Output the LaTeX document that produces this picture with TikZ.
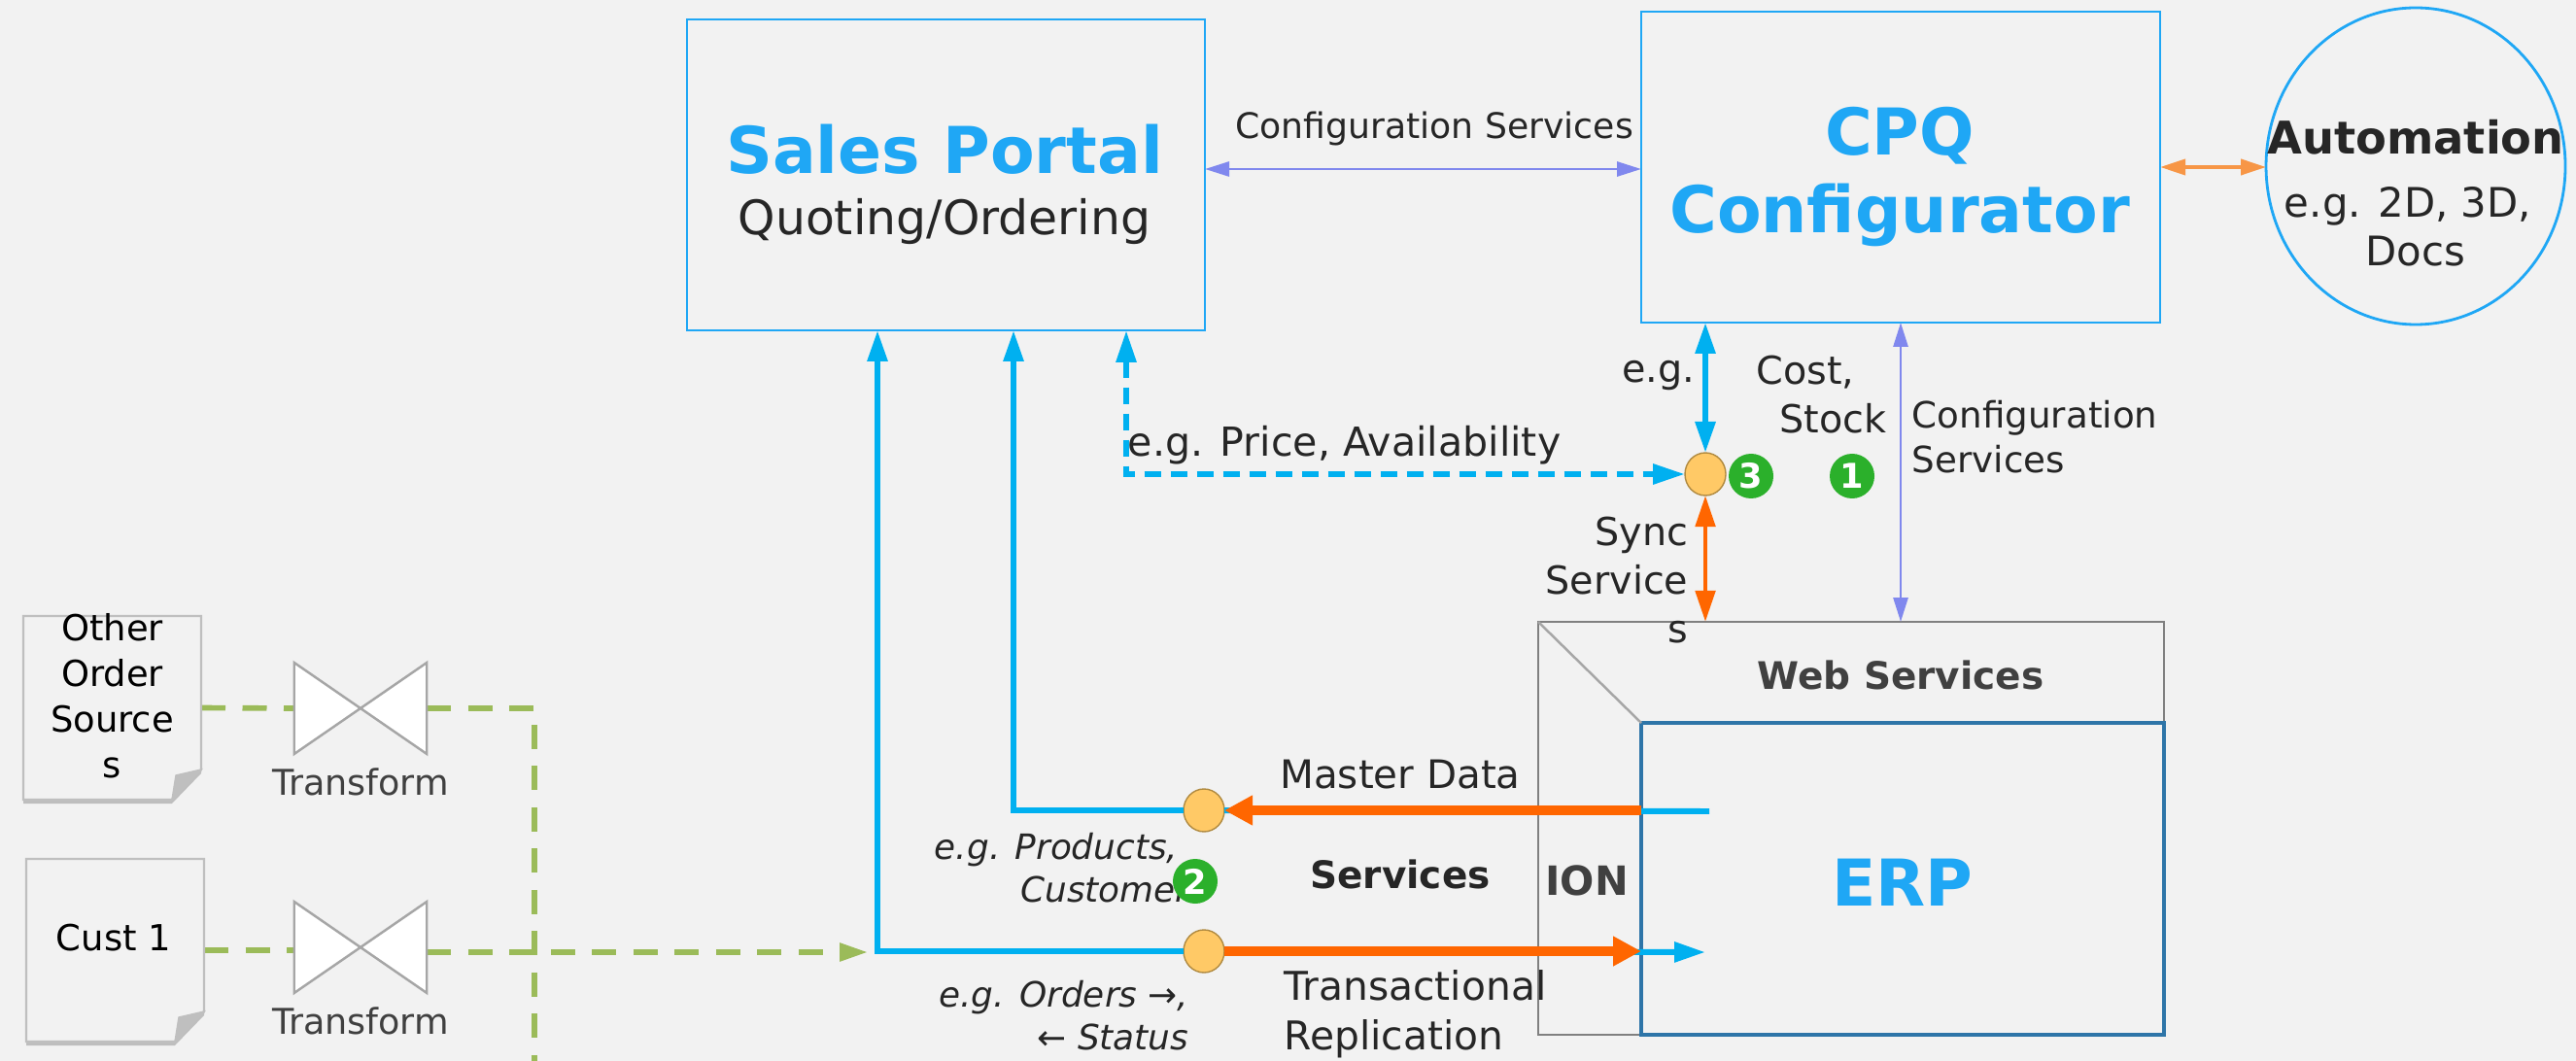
\documentclass[tikz,border=0pt]{standalone}
\usepackage{fontspec}
\setmainfont{DejaVu Sans}
\usepackage{tikz}
\usetikzlibrary{positioning}
\usetikzlibrary{calc}
\usetikzlibrary{arrows.meta}
\usetikzlibrary{shapes.geometric}
\usetikzlibrary{shadows}
\definecolor{pagegray}{HTML}{F2F2F2}
\definecolor{skyblue}{HTML}{1FA7F5}
\definecolor{lineblue}{HTML}{00B0F0}
\definecolor{lineorange}{HTML}{FF6600}
\definecolor{softorange}{HTML}{F79646}
\definecolor{linepurple}{HTML}{8088EE}
\definecolor{linegreen}{HTML}{9BBB59}
\definecolor{badgegreen}{HTML}{2BB02B}
\definecolor{erpblue}{HTML}{2E75A8}
\definecolor{dotfill}{HTML}{FFC966}
\definecolor{dotline}{HTML}{B08A40}
\definecolor{darktext}{HTML}{262626}
\definecolor{graytext}{HTML}{404040}
\tikzstyle{box} = [draw=skyblue, rectangle, line width=0.8pt, outer sep=0pt]
\tikzstyle{webbox} = [draw=black!50, rectangle, line width=0.8pt, outer sep=0pt]
\tikzstyle{erpbox} = [draw=erpblue, rectangle, line width=1pt, outer sep=0pt]
\tikzstyle{autocircle} = [draw=skyblue, ellipse, line width=0.8pt, minimum width=3.08cm, minimum height=3.26cm, inner sep=0pt, outer sep=0pt]
\tikzstyle{junction} = [draw=dotline, ellipse, fill=dotfill, line width=0.4pt, minimum width=0.42cm, minimum height=0.44cm, inner sep=0pt, outer sep=0pt]
\tikzstyle{badge} = [circle, fill=badgegreen, text=white, inner sep=0pt, minimum size=0.46cm, font=\fontsize{10}{12}\selectfont\bfseries]
\tikzstyle{docnode} = [rectangle, inner sep=0pt, outer sep=0pt, align=center, text=black, font=\fontsize{10.5}{13.4}\selectfont]
\tikzstyle{docpath} = [draw=black!25, fill=pagegray, line width=0.7pt, drop shadow={shadow xshift=0cm, shadow yshift=-0.04cm, fill=black!45}]
\tikzstyle{docfold} = [draw=black!25, fill=black!25, line width=0.4pt]
\tikzstyle{valve} = [rectangle, minimum width=1.365cm, minimum height=0.94cm, inner sep=0pt, outer sep=0pt]
\tikzstyle{valvepath} = [draw=black!35, fill=white, line width=0.7pt]
\tikzstyle{titletext} = [text=skyblue, align=center, font=\fontsize{18.9}{23}\selectfont\bfseries]
\tikzstyle{bodytext} = [text=darktext, align=center, font=\fontsize{13.9}{17}\selectfont]
\tikzstyle{labeltext} = [text=darktext, inner sep=0pt, font=\fontsize{11.3}{14}\selectfont]
\tikzstyle{smalltext} = [text=darktext, inner sep=0pt, font=\fontsize{10.2}{12.4}\selectfont\itshape, align=right]
\tikzstyle{valvetext} = [text=graytext, inner sep=0pt, font=\fontsize{10.4}{12}\selectfont]
\tikzstyle{boldtext} = [inner sep=0pt, font=\fontsize{11.1}{14}\selectfont\bfseries]
\tikzstyle{blueline} = [draw=lineblue, line width=1.7pt, -{Triangle[length=0.32cm,width=0.2cm]}]
\tikzstyle{bluedouble} = [draw=lineblue, line width=1.7pt, {Triangle[length=0.32cm,width=0.2cm]}-{Triangle[length=0.32cm,width=0.2cm]}]
\tikzstyle{bluedash} = [draw=lineblue, line width=1.7pt, dash pattern=on 0.17cm off 0.1cm, {Triangle[length=0.33cm,width=0.2cm]}-{Triangle[length=0.33cm,width=0.2cm]}]
\tikzstyle{orangeline} = [draw=lineorange, line width=2.8pt, -{Triangle[length=0.29cm,width=0.29cm]}]
\tikzstyle{orangedouble} = [draw=lineorange, line width=1.4pt, {Triangle[length=0.32cm,width=0.2cm]}-{Triangle[length=0.32cm,width=0.2cm]}]
\tikzstyle{softdouble} = [draw=softorange, line width=1.1pt, {Triangle[length=0.26cm,width=0.16cm]}-{Triangle[length=0.26cm,width=0.16cm]}]
\tikzstyle{purpledouble} = [draw=linepurple, line width=0.8pt, {Triangle[length=0.25cm,width=0.15cm]}-{Triangle[length=0.25cm,width=0.15cm]}]
\tikzstyle{greendash} = [draw=linegreen, line width=1.6pt, dash pattern=on 0.25cm off 0.175cm]
\newcommand{\docshape}[1]{
    \draw [docpath] (#1.north west) -- (#1.north east) -- ($(#1.south east)+(0,0.31)$) -- ($(#1.south east)+(-0.3,0)$) -- (#1.south west) -- cycle;
    \draw [docfold] ($(#1.south east)+(0,0.31)$) -- ($(#1.south east)+(-0.26,0.25)$) -- ($(#1.south east)+(-0.3,0)$) -- cycle;
}
\newcommand{\valveshape}[1]{
    \draw [valvepath] (#1.north west) -- (#1.south east) -- (#1.north east) -- (#1.south west) -- cycle;
}

\begin{document}
\begin{tikzpicture}
    \useasboundingbox [fill=pagegray] (0,0) rectangle (26.51,-10.92);

    \node [box, minimum width=5.33cm, minimum height=3.2cm] (portal) at (9.735,-1.8) {};
    \node [box, minimum width=5.34cm, minimum height=3.2cm] (cpq) at (19.56,-1.72) {};
    \node [autocircle] (automation) at (24.86,-1.71) {};
    \node [webbox, minimum width=6.44cm, minimum height=4.25cm] (web) at (19.05,-8.525) {};
    \node [erpbox, minimum width=5.38cm, minimum height=3.21cm, above left = 0cm and 0cm of web.south east] (erp) {};
    \node [junction] (syncdot) at (17.55,-4.88) {};
    \node [junction] (masterdot) at (12.39,-8.34) {};
    \node [junction] (transdot) at (12.39,-9.79) {};
    \node [docnode, minimum width=1.83cm, minimum height=1.89cm] (othersrc) at (1.155,-7.285) {};
    \node [docnode, minimum width=1.83cm, minimum height=1.88cm] (cust) at (1.185,-9.78) {};
    \node [valve] (valve1) at (3.71,-7.29) {};
    \node [valve] (valve2) at (3.71,-9.75) {};

    \coordinate (portalorders) at ($(portal.south west)+(1.96,0)$);
    \coordinate (portalmaster) at ($(portal.south west)+(3.36,0)$);
    \coordinate (portalprice) at ($(portal.south west)+(4.52,0)$);
    \coordinate (cfgend) at ($(cpq.west)+(0,-0.02)$);
    \coordinate (erpdata) at (17.59,-8.35);
    \coordinate (erpin) at (17.55,-9.8);
    \coordinate (greensink) at (8.93,-9.8);
    \coordinate (greenend) at (5.5,-10.92);

    \draw [draw=black!35, line width=0.7pt] (web.north west) -- (erp.north west);

    \draw [greendash] (othersrc.east) -- (valve1.west);
    \draw [greendash] (valve1.east) -| (greenend);
    \draw [greendash] (cust.east) -- (cust.east -| valve2.west);
    \draw [greendash, -{Triangle[length=0.29cm,width=0.18cm]}] (valve2.east |- greensink) -- (greensink);

    \docshape{othersrc}
    \docshape{cust}
    \valveshape{valve1}
    \valveshape{valve2}

    \draw [blueline] (transdot) -| (portalorders);
    \draw [blueline] (masterdot) -| (portalmaster);
    \draw [bluedash] (portalprice) |- (syncdot);
    \draw [draw=lineblue, line width=1.7pt] (masterdot) -- (erpdata);
    \draw [blueline] (transdot) -- (erpin);
    \draw [orangeline] (erp.west |- masterdot) -- (masterdot);
    \draw [orangeline] (transdot) -- (erp.west |- transdot);
    \draw [bluedouble] (syncdot |- cpq.south) -- (syncdot);
    \draw [orangedouble] (syncdot) -- (syncdot |- web.north);
    \draw [purpledouble] (cpq.south) -- (cpq.south |- web.north);
    \draw [purpledouble] (cfgend -| portal.east) -- (cfgend);
    \draw [softdouble] (cpq.east) -- (cpq.east -| automation.west);

    \node [titletext] (portaltitle) at (9.72,-1.54) {Sales Portal};
    \node [bodytext, below = 0cm of portaltitle] (portalsub) {Quoting/Ordering};
    \node [titletext] (cpqtitle) at (19.55,-1.82) {CPQ\\Configurator};
    \node [text=darktext, inner sep=0pt, font=\fontsize{13.2}{16}\selectfont\bfseries] (autotitle) at (24.86,-1.41) {Automation};
    \node [text=darktext, inner sep=0pt, align=center, font=\fontsize{11.9}{14.2}\selectfont, below = 0.32cm of autotitle] (autosub) {e.g. 2D, 3D,\hspace*{0.16cm}\\Docs};
    \node [labeltext, font=\fontsize{10.3}{13}\selectfont] (cfglabel) at (14.76,-1.33) {Configuration Services};
    \node [labeltext, font=\fontsize{11.7}{15}\selectfont, anchor=west] (pricelabel) at (11.6,-4.58) {e.g. Price, Availability};
    \node [labeltext, anchor=east] (eglabel) at (17.45,-3.87) {e.g.};
    \node [labeltext, align=right, anchor=east] (costlabel) at (19.42,-4.06) {Cost,\hspace*{0.33cm}\\Stock};
    \node [labeltext, align=left, anchor=west, font=\fontsize{10.6}{13.1}\selectfont] (cfglabel2) at (19.67,-4.5) {Configuration\\Services};
    \node [labeltext, align=right, anchor=east, font=\fontsize{11.3}{14.2}\selectfont] (synclabel) at (17.38,-5.97) {Sync\\Service\\s};
    \node [boldtext, text=graytext] (webtitle) at (19.56,-6.95) {Web Services};
    \node [titletext] (erptitle) at ($(erp)+(0,-0.04)$) {ERP};
    \node [boldtext, text=graytext, font=\fontsize{11.8}{14}\selectfont\bfseries] (ionlabel) at (16.33,-9.06) {ION};
    \node [boldtext, text=darktext] (svclabel) at (14.41,-9.0) {Services};
    \node [labeltext, font=\fontsize{11.5}{14}\selectfont] (masterlabel) at (14.41,-7.97) {Master Data};
    \node [labeltext, align=left, anchor=west, font=\fontsize{11.6}{14.6}\selectfont] (translabel) at (13.21,-10.44) {Transactional\\Replication};
    \node [smalltext, anchor=east] (prodlabel) at (12.44,-8.93) {e.g. Products,\hspace*{0.31cm}\\Customers};
    \node [smalltext, anchor=east] (orderlabel) at (12.24,-10.45) {e.g. Orders →,\\← Status};
    \node [valvetext] (valvelabel1) at (3.71,-8.05) {Transform};
    \node [valvetext] (valvelabel2) at (3.71,-10.51) {Transform};
    \node [docnode] (othertext) at (othersrc |- 0,-7.16) {Other\\Order\\Source\\s};
    \node [docnode] (custtext) at (1.17,-9.65) {Cust 1};

    \node [badge] (badge1) at (19.06,-4.9) {1};
    \node [badge] (badge2) at (12.3,-9.07) {2};
    \node [badge] (badge3) at (18.02,-4.9) {3};
\end{tikzpicture}
\end{document}
